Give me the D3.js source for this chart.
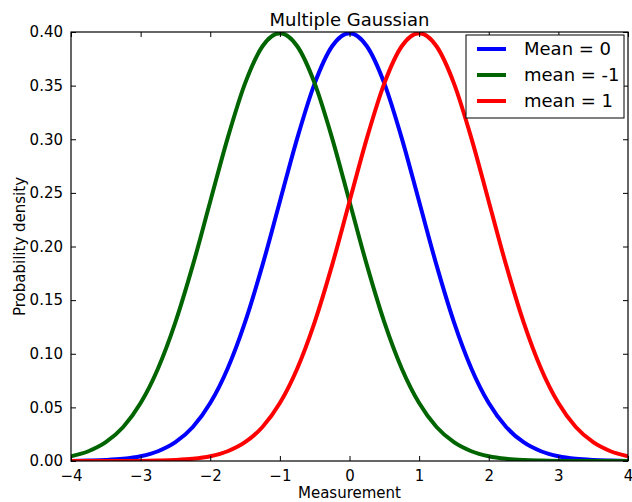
<!DOCTYPE html>
<html>
<head>
<meta charset="utf-8">
<script src="https://cdn.jsdelivr.net/npm/d3@7"></script>
<style>
  body { margin: 0; background: #fff; }
  text { font-family: "DejaVu Sans", sans-serif; fill: #000; }
</style>
</head>
<body>
<script>
// values at steps of 0.25
var xValues = [-4, -3.75, -3.5, -3.25, -3, -2.75, -2.5, -2.25, -2, -1.75, -1.5, -1.25, -1, -0.75, -0.5, -0.25,
  0, 0.25, 0.5, 0.75, 1, 1.25, 1.5, 1.75, 2, 2.25, 2.5, 2.75, 3, 3.25, 3.5, 3.75, 4];

var meanZero = [0.0001, 0.0004, 0.0009, 0.0020, 0.0044, 0.0091, 0.0175, 0.0317, 0.0540, 0.0863, 0.1295, 0.1826,
  0.2420, 0.3011, 0.3521, 0.3867, 0.3989, 0.3867, 0.3521, 0.3011, 0.2420, 0.1826, 0.1295, 0.0863, 0.0540,
  0.0317, 0.0175, 0.0091, 0.0044, 0.0020, 0.0009, 0.0004, 0.0001];

var meanMinusOne = [0.0044, 0.0091, 0.0175, 0.0317, 0.0540, 0.0863, 0.1295, 0.1826, 0.2420, 0.3011, 0.3521,
  0.3867, 0.3989, 0.3867, 0.3521, 0.3011, 0.2420, 0.1826, 0.1295, 0.0863, 0.0540, 0.0317, 0.0175, 0.0091,
  0.0044, 0.0020, 0.0009, 0.0004, 0.0001, 0.0000, 0.0000, 0.0000, 0.0000];

var meanPlusOne = [0.0000, 0.0000, 0.0000, 0.0000, 0.0001, 0.0004, 0.0009, 0.0020, 0.0044, 0.0091, 0.0175,
  0.0317, 0.0540, 0.0863, 0.1295, 0.1826, 0.2420, 0.3011, 0.3521, 0.3867, 0.3989, 0.3867, 0.3521, 0.3011,
  0.2420, 0.1826, 0.1295, 0.0863, 0.0540, 0.0317, 0.0175, 0.0091, 0.0044];

var seriesNames = ["Mean = 0", "mean = -1", "mean = 1"];
var seriesColors = ["#0000ff", "#006400", "#ff0000"];
var xTicks = [-4, -3, -2, -1, 0, 1, 2, 3, 4];
var yTicks = [0, 0.05, 0.10, 0.15, 0.20, 0.25, 0.30, 0.35, 0.40];

var allSeries = [meanZero, meanMinusOne, meanPlusOne];

var width = 632, height = 502;
var m = { left: 71, right: 4, top: 32, bottom: 41 };

var svg = d3.select("body").append("svg")
  .attr("width", width)
  .attr("height", height);

var x = d3.scaleLinear().domain([-4, 4]).range([m.left, width - m.right]);
var y = d3.scaleLinear().domain([0, 0.4]).range([height - m.bottom, m.top]);

svg.append("clipPath").attr("id", "plotClip")
  .append("rect")
  .attr("x", m.left).attr("y", m.top)
  .attr("width", x(4) - x(-4)).attr("height", y(0) - y(0.4));

var line = d3.line()
  .x(function (d, i) { return x(xValues[i]); })
  .y(function (d) { return y(d); })
  .curve(d3.curveMonotoneX);

svg.append("g").attr("clip-path", "url(#plotClip)")
  .selectAll("path")
  .data(allSeries)
  .enter().append("path")
  .attr("d", line)
  .attr("fill", "none")
  .attr("stroke", function (d, i) { return seriesColors[i]; })
  .attr("stroke-width", 4)
  .attr("stroke-linejoin", "round");

// axes, matplotlib classic style: ticks inside on all four sides
function styleAxis(g) {
  g.select(".domain").remove();
  g.selectAll(".tick line").attr("stroke", "#000").attr("stroke-width", 1);
  g.selectAll(".tick text").style("font-size", "15px").style("font-family", "DejaVu Sans");
}

var fmtX = function (d) { return d < 0 ? "\u2212" + Math.abs(d) : d; };

svg.append("g")
  .attr("transform", "translate(0," + y(0) + ")")
  .call(d3.axisBottom(x).tickValues(xTicks).tickFormat(fmtX).tickSizeInner(-5).tickSizeOuter(0).tickPadding(9))
  .call(styleAxis);

svg.append("g")
  .attr("transform", "translate(0," + y(0.4) + ")")
  .call(d3.axisTop(x).tickValues(xTicks).tickFormat("").tickSizeInner(-5).tickSizeOuter(0))
  .call(styleAxis);

svg.append("g")
  .attr("transform", "translate(" + x(-4) + ",0)")
  .call(d3.axisLeft(y).tickValues(yTicks).tickFormat(d3.format(".2f")).tickSizeInner(-5).tickSizeOuter(0).tickPadding(8))
  .call(styleAxis);

svg.append("g")
  .attr("transform", "translate(" + x(4) + ",0)")
  .call(d3.axisRight(y).tickValues(yTicks).tickFormat("").tickSizeInner(-5).tickSizeOuter(0))
  .call(styleAxis);

svg.append("rect")
  .attr("x", x(-4)).attr("y", y(0.4))
  .attr("width", x(4) - x(-4)).attr("height", y(0) - y(0.4))
  .attr("fill", "none").attr("stroke", "#000").attr("stroke-width", 1.2);

// titles
svg.append("text")
  .attr("x", (x(-4) + x(4)) / 2).attr("y", 26)
  .attr("text-anchor", "middle").style("font-size", "18px")
  .text("Multiple Gaussian");

svg.append("text")
  .attr("x", (x(-4) + x(4)) / 2).attr("y", 498)
  .attr("text-anchor", "middle").style("font-size", "15px")
  .text("Measurement");

svg.append("text")
  .attr("transform", "translate(25," + (y(0) + y(0.4)) / 2 + ") rotate(-90)")
  .attr("text-anchor", "middle").style("font-size", "15px")
  .text("Probability density");

// legend
var legend = svg.append("g").attr("transform", "translate(466,35)");
legend.append("rect")
  .attr("width", 158).attr("height", 83)
  .attr("fill", "#fff").attr("stroke", "#000").attr("stroke-width", 1);

var rows = legend.selectAll("g.row")
  .data(seriesNames)
  .enter().append("g")
  .attr("class", "row")
  .attr("transform", function (d, i) { return "translate(0," + (14 + i * 26) + ")"; });

rows.append("line")
  .attr("x1", 11).attr("x2", 40)
  .attr("stroke", function (d, i) { return seriesColors[i]; })
  .attr("stroke-width", 4);

rows.append("text")
  .attr("x", 58).attr("dy", "0.36em")
  .style("font-size", "18px")
  .text(function (d) { return d; });
</script>
</body>
</html>
